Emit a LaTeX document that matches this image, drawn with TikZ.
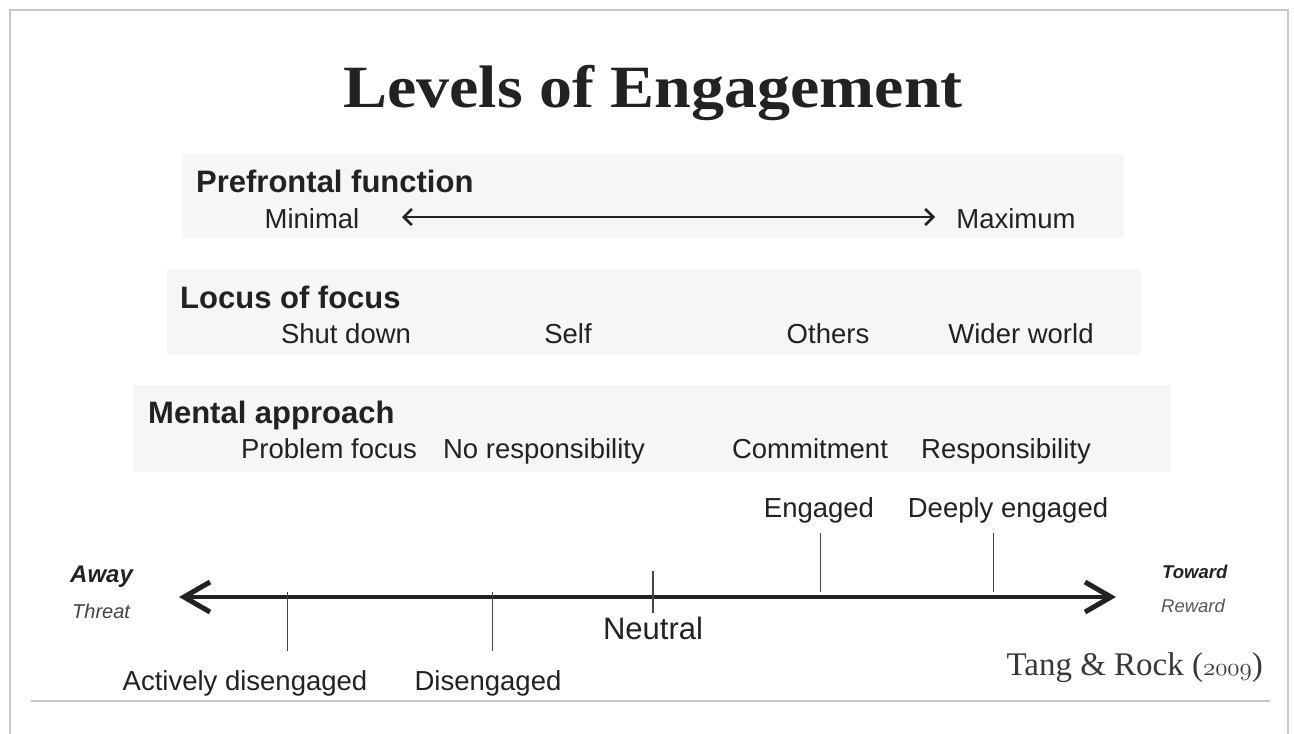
\documentclass[tikz,border=0pt]{standalone}
\usepackage{fontspec}
\setmainfont{Liberation Sans}
\newfontfamily\titlefont{Liberation Serif}
\newcommand{\oldnums}[1]{{\fontencoding{OML}\fontfamily{lmm}\fontseries{m}\fontshape{it}\fontsize{36}{38}\selectfont #1}}
\usetikzlibrary{arrows.meta}
\definecolor{ink}{HTML}{222222}
\definecolor{band}{HTML}{F6F6F6}
\definecolor{framec}{HTML}{C8C8C8}
\begin{document}
\begin{tikzpicture}[x=1pt,y=-1pt,
  lbl/.style={font=\fontsize{27.5}{30}\selectfont, text=ink, inner sep=0pt, anchor=base},
  head/.style={font=\fontsize{31}{34}\selectfont\bfseries, text=ink, inner sep=0pt, anchor=base west},
  bandbox/.style={fill=band, draw=none, inner sep=0pt, anchor=north west},
  tickline/.style={draw=ink!85, line width=1pt},
  thinarrow/.style={draw=ink, line width=1.4pt, {Straight Barb[length=8pt,width=16pt,line width=2.6pt]}-{Straight Barb[length=8pt,width=16pt,line width=2.6pt]}},
  axisarrow/.style={draw=ink, line width=4pt, {Straight Barb[length=26pt,width=30pt,line width=5pt]}-{Straight Barb[length=26pt,width=30pt,line width=5pt]}},
]
\useasboundingbox (0,0) rectangle (1294,734);
\fill[white] (0,0) rectangle (1294,734);
\draw[framec, line width=1.2pt] (10,734) -- (10,10) -- (1288,10) -- (1288,734);
\draw[framec, line width=2pt] (31,701) -- (1270,701);

% title
\node[font=\titlefont\bfseries\fontsize{60}{64}\selectfont, anchor=base, text=ink, inner sep=0pt] (title) at (653,107) {\scalebox{1.1}[1]{Levels of Engagement}};

% bands
\node[bandbox, minimum width=942pt, minimum height=84pt] (band1) at (182,154) {};
\node[bandbox, minimum width=974pt, minimum height=86pt] (band2) at (167,269) {};
\node[bandbox, minimum width=1038pt, minimum height=87pt] (band3) at (133,385) {};

% prefrontal function
\node[head] (pf) at (196,192) {Prefrontal function};
\node[lbl] (minimal) at (312,228) {Minimal};
\node[lbl] (maximum) at (1016,228) {Maximum};
\coordinate (pfL) at (402,217);
\coordinate (pfR) at (935,217);
\draw[thinarrow] (pfL) -- (pfR);

% locus of focus
\node[head] (lf) at (180,308) {Locus of focus};
\node[lbl] (shut) at (346,343) {Shut down};
\node[lbl] (self) at (568,343) {Self};
\node[lbl] (others) at (828,343) {Others};
\node[lbl] (wider) at (1021,343) {Wider world};

% mental approach
\node[head] (ma) at (148,423) {Mental approach};
\node[lbl] (prob) at (329,458) {Problem focus};
\node[lbl] (noresp) at (544,458) {No responsibility};
\node[lbl] (commit) at (810,458) {Commitment};
\node[lbl] (resp) at (1006,458) {Responsibility};

% axis
\coordinate (axL) at (179,597);
\coordinate (axR) at (1116,597);
\draw[axisarrow] (axL) -- (axR);

\node[font=\fontsize{24}{26}\selectfont\bfseries\itshape, text=ink, inner sep=0pt, anchor=base west] (away) at (70,582) {Away};
\node[font=\fontsize{20}{22}\selectfont\itshape, text=ink!85, inner sep=0pt, anchor=base west] (threat) at (72,618) {Threat};
\node[font=\fontsize{18.5}{20}\selectfont\bfseries\itshape, text=ink, inner sep=0pt, anchor=base west] (toward) at (1162,578) {Toward};
\node[font=\fontsize{18.5}{20}\selectfont\itshape, text=ink!75, inner sep=0pt, anchor=base west] (reward) at (1161,612) {Reward};

% ticks
\coordinate (t1a) at (287,592); \coordinate (t1b) at (287,651);
\coordinate (t2a) at (492,592); \coordinate (t2b) at (492,651);
\coordinate (t3a) at (653,571); \coordinate (t3b) at (653,613);
\coordinate (t4a) at (820,533); \coordinate (t4b) at (820,592);
\coordinate (t5a) at (993,533); \coordinate (t5b) at (993,592);
\draw[tickline] (t1a) -- (t1b);
\draw[tickline] (t2a) -- (t2b);
\draw[tickline, line width=1.6pt] (t3a) -- (t3b);
\draw[tickline] (t4a) -- (t4b);
\draw[tickline] (t5a) -- (t5b);

\node[lbl] (actdis) at (245,690) {Actively disengaged};
\node[lbl] (dis) at (488,690) {Disengaged};
\node[lbl, font=\fontsize{31}{33}\selectfont] (neutral) at (653,639) {Neutral};
\node[lbl] (eng) at (819,517) {Engaged};
\node[lbl] (deep) at (1008,517) {Deeply engaged};

\node[font=\titlefont\fontsize{33}{35}\selectfont, text=ink!90, inner sep=0pt, anchor=base east] (cite) at (1263,675) {Tang \& Rock (\oldnums{2009})};
\end{tikzpicture}
\end{document}
